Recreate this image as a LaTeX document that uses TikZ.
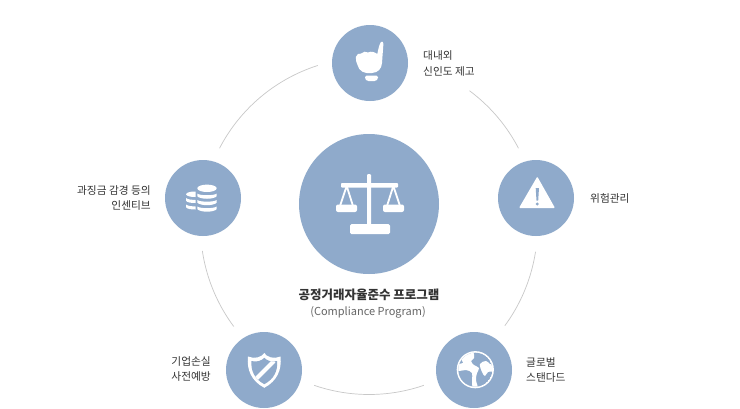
\documentclass[tikz,border=0pt]{standalone}
\usepackage{fontspec}
\setmainfont{Noto Sans CJK KR}
\definecolor{disc}{HTML}{8FAACB}
\definecolor{ring}{HTML}{C8C8C8}
\definecolor{ink}{HTML}{333333}
\tikzset{
  x=1pt,y=-1pt,
  hub/.style={circle,fill=disc,inner sep=0pt,minimum size=#1},
  lbl/.style={font=\fontsize{10.7}{15.5}\selectfont,text=ink,inner sep=0pt},
  arcline/.style={draw=ring,line width=0.7pt},
  ico/.style={fill=white,draw=none},
}
\newcommand{\ringarc}[2]{\draw[arcline] plot[domain=#1:#2,samples=40,smooth] ({369+168.5*cos(\x)},{226-168.5*sin(\x)});}
\begin{document}
\begin{tikzpicture}
\useasboundingbox (0,0) rectangle (740,408);
\fill[white] (0,0) rectangle (740,408);
% ring segments
\ringarc{107.7}{152.5}
\ringarc{27.5}{53.4}
\ringarc{-36.3}{-8.8}
\ringarc{-109}{-71}
\ringarc{-171.5}{-143.4}
% discs
\node[hub=140pt] (c) at (369,204) {};
\node[hub=76pt] (top) at (370,63) {};
\node[hub=76pt] (lft) at (203,198) {};
\node[hub=76pt] (rgt) at (536,198) {};
\node[hub=76pt] (bl) at (264,370) {};
\node[hub=76pt] (br) at (474,370) {};
% scales
\fill[ico,rounded corners=0.8pt] (341,183) rectangle (398,187.5);
\fill[ico,rounded corners=1pt] (367,174) rectangle (371,226);
\fill[ico,rounded corners=1.5pt] (350,224) rectangle (390,234);
\fill[ico,rounded corners=2pt] (336,204.5) rectangle (357,212);
\fill[ico,rounded corners=2pt] (383,204.5) rectangle (404,212);
\draw[white,line width=1.8pt] (340,206) -- (346.7,186) -- (353,206);
\draw[white,line width=1.8pt] (387,206) -- (393.3,186) -- (400,206);
% hand
\fill[ico] (377.3,54) .. controls (378.5,48) and (379.5,44) .. (381,42) .. controls (382.6,41) and (383.4,42) .. (383.4,44)
  .. controls (383,50) and (382.4,57) .. (382,63)
  .. controls (381.6,69) and (378,72.5) .. (372,73)
  .. controls (364,74) and (359,71) .. (357.5,65)
  .. controls (356.6,62) and (355.4,60) .. (355.8,57)
  .. controls (356.5,54) and (359,53.2) .. (361,53.6)
  .. controls (363,51.6) and (366,51) .. (368,52.5)
  .. controls (371,50.8) and (374.5,52) .. (377.3,54) -- cycle;
\fill[ico,rounded corners=1.5pt] (365,75.5) -- (378,75.5) -- (378,79) -- (376,81) -- (367,81) -- (365,79) -- cycle;
% coins
\fill[ico] (207,188.3) ellipse (9.7 and 3.7);
\foreach \y in {193.6,200,206.5}{
  \fill[ico] (197.3,\y) .. controls (200,\y+2.2) and (214,\y+2.2) .. (216.7,\y) -- (216.7,\y+2.6) .. controls (214,\y+6) and (200,\y+6) .. (197.3,\y+2.6) -- cycle;
}
\fill[ico] (195.5,191.6) .. controls (190,191.4) and (186.5,192.5) .. (186,194.4) .. controls (186.5,196) and (191,197.2) .. (195.5,197) -- cycle;
\foreach \y in {198,204.5}{
  \fill[ico] (186,\y) .. controls (188,\y+1.6) and (192,\y+2) .. (195.5,\y+2) -- (195.5,\y+5) .. controls (191,\y+5) and (187,\y+4.5) .. (186,\y+2.6) -- cycle;
}
% warning
\fill[ico,rounded corners=1pt] (537.3,176.6) -- (555,208) -- (519,208) -- cycle;
\fill[disc] (535.7,188) -- (539,188) -- (538.2,200.5) -- (536.5,200.5) -- cycle;
\fill[disc] (537.3,204) circle (1.6);
% shield
\fill[ico] (264.3,353) .. controls (266.5,357) and (274,359.5) .. (280.5,356.5) .. controls (282,370) and (277,381) .. (264.3,387.8)
  .. controls (251.5,381) and (246.5,370) .. (248,356.5) .. controls (254.5,359.5) and (262,357) .. (264.3,353) -- cycle;
\begin{scope}
\clip (264.3,357.8) .. controls (267,360.8) and (272,362.4) .. (277.2,361) .. controls (277.8,371) and (274,379) .. (264.3,384.2)
  .. controls (254.6,379) and (250.8,371) .. (251.4,361) .. controls (256.6,362.4) and (261.6,360.8) .. (264.3,357.8) -- cycle;
\fill[disc] (245,350) rectangle (284,390);
\draw[white,line width=4pt] (255,380) -- (274,361);
\end{scope}
% globe
\fill[ico] (475.3,369.7) circle (18.6);
\begin{scope}
\clip (475.3,369.7) circle (17);
\fill[disc] (475.3,369.7) circle (17);
\fill[ico] plot[smooth cycle,tension=0.6] coordinates {(461,358) (467,354) (473,352) (474,358) (471,361) (474,365) (479,368) (477,373) (476,380) (478,389) (473,389) (472,380) (472,373) (466,370) (459,371) (455,368) (458,364) (463,363)};
\fill[ico] plot[smooth cycle,tension=0.6] coordinates {(480,364) (486,361) (490,364) (495,366) (495,371) (488,372) (485,376) (482,372)};
\end{scope}
% labels
\node[font=\bfseries\fontsize{12.5}{15}\selectfont,text=ink,inner sep=0pt] (title) at (369,295) {공정거래자율준수 프로그램};
\node[font=\fontsize{11}{14}\selectfont,text=ink!75,inner sep=0pt] (sub) at (368,312) {(Compliance Program)};
\node[lbl,align=left,anchor=west] (ltop) at (423,63.5) {대내외\\신인도 제고};
\node[lbl,align=right,anchor=east] (llft) at (151,198) {과징금 감경 등의\\인센티브};
\node[lbl,align=left,anchor=west] (lrgt) at (590,198) {위험관리};
\node[lbl,align=right,anchor=east] (lbl) at (211,369) {기업손실\\사전예방};
\node[lbl,align=left,anchor=west] (lbr) at (526,370) {글로벌\\스탠다드};
\end{tikzpicture}
\end{document}
